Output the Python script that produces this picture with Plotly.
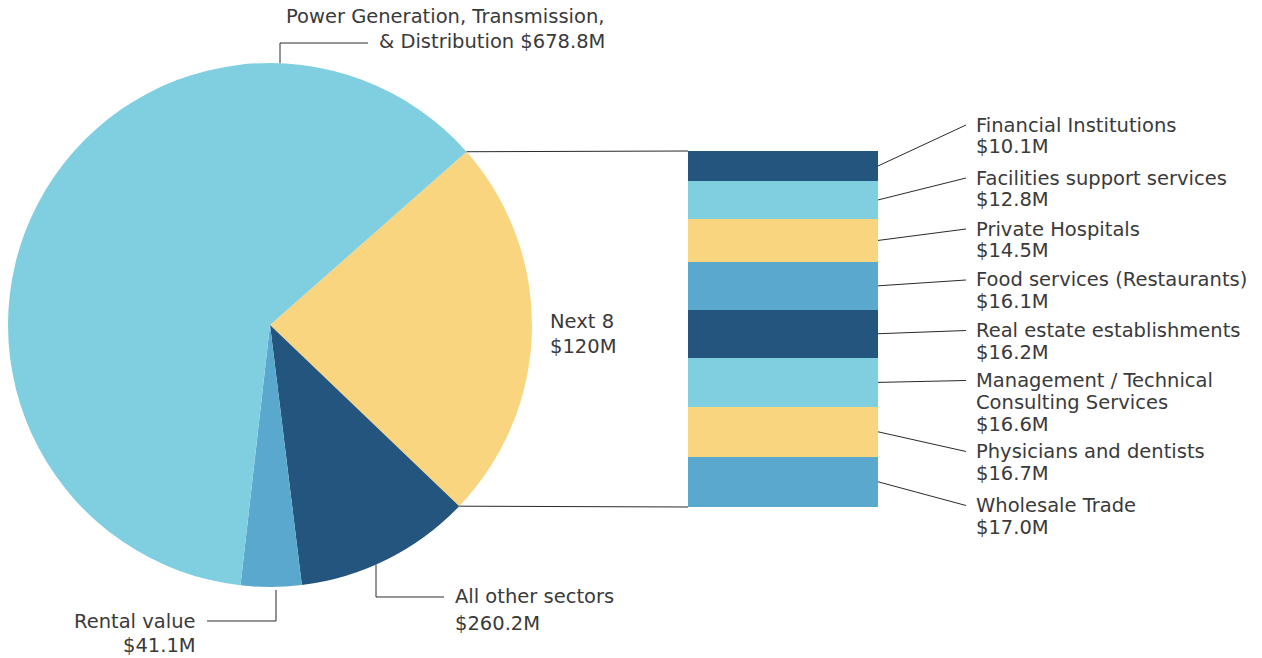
import math
import plotly.graph_objects as go

W, H = 1262, 658

# ---- data ----
# pie slices in drawing order (clockwise from the upper-right edge), sizes as drawn
pie_names = ["Next 8", "All other sectors", "Rental value",
             "Power Generation, Transmission, & Distribution"]
pie_slice_values = [260.2, 120.0, 41.1, 678.8]
pie_colors = ["#F9D580", "#23557E", "#5AA8CE", "#7FCFE1"]

# breakdown bar (top to bottom)
bar_labels = ["Financial Institutions", "Facilities support services", "Private Hospitals",
              "Food services (Restaurants)", "Real estate establishments",
              "Management / Technical|Consulting Services", "Physicians and dentists",
              "Wholesale Trade"]
bar_values = [10.1, 12.8, 14.5, 16.1, 16.2, 16.6, 16.7, 17.0]
bar_value_text = ["$10.1M", "$12.8M", "$14.5M", "$16.1M", "$16.2M", "$16.6M", "$16.7M", "$17.0M"]
bar_colors = ["#23557E", "#7FCFE1", "#F9D580", "#5AA8CE",
              "#23557E", "#7FCFE1", "#F9D580", "#5AA8CE"]

TEXT = "#3a3a3a"
FONT = "DejaVu Sans"
FS = 19.5
LINE = "#2a2a2a"


def px(x):
    return x / W


def py(y):
    return 1 - y / H


# ---- layout geometry (pixels) ----
pie_cx, pie_cy, pie_r = 270, 325, 262
rotation = 48.6
bar_x0, bar_x1, bar_y0, bar_y1 = 688, 878, 151, 507  # y0 top, y1 bottom

fig = go.Figure()

fig.add_trace(go.Pie(
    labels=pie_names, values=pie_slice_values, sort=False, direction="clockwise",
    rotation=rotation, marker=dict(colors=pie_colors, line=dict(width=0)),
    textinfo="none", hoverinfo="skip", showlegend=False,
    domain=dict(x=[px(pie_cx - pie_r), px(pie_cx + pie_r)],
                y=[py(pie_cy + pie_r), py(pie_cy - pie_r)]),
))

total_bar = sum(bar_values)
for lab, v, c in reversed(list(zip(bar_labels, bar_values, bar_colors))):
    fig.add_trace(go.Bar(x=[0], y=[v], width=1, marker=dict(color=c, line=dict(width=0)),
                         xaxis="x2", yaxis="y2", showlegend=False, hoverinfo="skip",
                         name=lab.replace("|", " ")))

shapes = []
annotations = []


def seg(x0, y0, x1, y1):
    shapes.append(dict(type="line", xref="paper", yref="paper",
                       x0=px(x0), y0=py(y0), x1=px(x1), y1=py(y1),
                       line=dict(color=LINE, width=1)))


def text_lines(lines, x, first_y, spacing, anchor):
    for i, t in enumerate(lines):
        annotations.append(dict(text=t, x=px(x), y=py(first_y + i * spacing),
                                xref="paper", yref="paper", xanchor=anchor, yanchor="middle",
                                align=anchor, showarrow=False,
                                font=dict(family=FONT, size=FS, color=TEXT)))


# connector lines from the "Next 8" slice edges to the bar corners
tot = sum(pie_slice_values)
a0 = math.radians(rotation)
a1 = math.radians(rotation + pie_slice_values[0] / tot * 360)
p0 = (pie_cx + pie_r * math.sin(a0), pie_cy - pie_r * math.cos(a0))
p1 = (pie_cx + pie_r * math.sin(a1), pie_cy - pie_r * math.cos(a1))
seg(p0[0], p0[1], bar_x0, bar_y0)
seg(p1[0], p1[1], bar_x0, bar_y1)

# bar labels and leader lines
label_first_y = [125, 178, 229, 280, 330.5, 380.5, 451.5, 505.5]
lab_x = 974
cum = 0
for lab, v, vt, fy in zip(bar_labels, bar_values, bar_value_text, label_first_y):
    seg_mid = bar_y0 + (cum + v / 2) / total_bar * (bar_y1 - bar_y0)
    cum += v
    seg(bar_x1, seg_mid, 966, fy)
    text_lines(lab.split("|") + [vt], lab_x, fy, 21.8, "left")

# pie labels
text_lines(["Power Generation, Transmission,", "& Distribution $678.8M"], 607, 16.5, 25, "right")
text_lines(["Next 8", "$120M"], 548, 321, 25, "left")
text_lines(["All other sectors", "$260.2M"], 453, 596.5, 27, "left")
text_lines(["Rental value", "$41.1M"], 198, 621, 24.5, "right")

# pie label leaders
seg(280, pie_cy - math.sqrt(pie_r ** 2 - (280 - pie_cx) ** 2), 280, 43)
seg(280, 43, 368, 43)
seg(376, pie_cy + math.sqrt(pie_r ** 2 - (376 - pie_cx) ** 2), 376, 597)
seg(376, 597, 444, 597)
seg(276, pie_cy + math.sqrt(pie_r ** 2 - (276 - pie_cx) ** 2) + 3, 276, 621)
seg(276, 621, 207, 621)

fig.update_layout(
    width=W, height=H, margin=dict(l=0, r=0, t=0, b=0),
    paper_bgcolor="white", plot_bgcolor="white",
    barmode="stack", bargap=0,
    xaxis2=dict(domain=[px(bar_x0), px(bar_x1)], range=[-0.5, 0.5], visible=False,
                anchor="y2", fixedrange=True),
    yaxis2=dict(domain=[py(bar_y1), py(bar_y0)], range=[0, total_bar], visible=False,
                anchor="x2", fixedrange=True),
    shapes=shapes, annotations=annotations,
)

fig.write_html("out.html", config={"displayModeBar": False},
               post_script="document.body.style.margin='0px';document.body.style.overflow='hidden';")
